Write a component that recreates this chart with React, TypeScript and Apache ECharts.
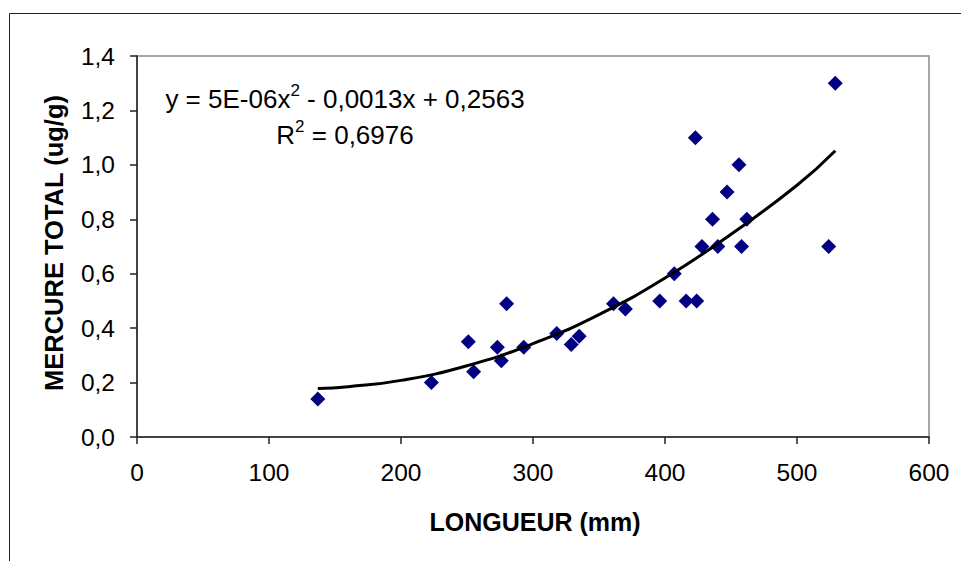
import React, { useEffect, useRef } from "react";
import * as echarts from "echarts";

const longueur: number[] = [137, 223, 251, 255, 273, 276, 280, 293, 318, 329, 335, 361, 370, 396, 407, 416, 424, 423, 428, 436, 440, 447, 456, 458, 462, 524, 529];
const mercure: number[] = [0.14, 0.20, 0.35, 0.24, 0.33, 0.28, 0.49, 0.33, 0.38, 0.34, 0.37, 0.49, 0.47, 0.50, 0.60, 0.50, 0.50, 1.10, 0.70, 0.80, 0.70, 0.90, 1.00, 0.70, 0.80, 0.70, 1.30];
// polynomial trend line
const trendX: number[] = [137, 160, 200, 250, 300, 350, 400, 450, 500, 529];
const trendY: number[] = [0.178, 0.185, 0.208, 0.262, 0.343, 0.45, 0.584, 0.745, 0.925, 1.052];
const xTicks = { min: 0, max: 600, interval: 100 };
const yTicks = { min: 0, max: 1.4, interval: 0.2 };
const xTitle = "LONGUEUR (mm)";
const yTitle = "MERCURE TOTAL (ug/g)";
const eqLine1 = ["y = 5E-06x", "2", " - 0,0013x + 0,2563"];
const eqLine2 = ["R", "2", " = 0,6976"];

const FONT = "'Liberation Sans', Arial, sans-serif";

export default function App() {
  const ref = useRef<HTMLDivElement>(null);
  useEffect(() => {
    if (!ref.current) return;
    const chart = echarts.init(ref.current, undefined, { renderer: "svg" });
    const trend = trendX.map((x, i) => [x, trendY[i]]);
    const pts = longueur.map((x, i) => [x, mercure[i]]);
    const rich = {
      n: { fontSize: 26, fontFamily: FONT, fill: "#000", lineHeight: 30, verticalAlign: "bottom" },
      s: { fontSize: 17, fontFamily: FONT, fill: "#000", lineHeight: 30, verticalAlign: "top", padding: [0, 0, 10, 0] },
    };

    chart.setOption({
      animation: false,
      backgroundColor: "#fff",
      textStyle: { fontFamily: FONT },
      grid: {
        left: 137,
        right: 32,
        top: 56,
        bottom: 124,
        show: true,
        borderColor: "#8a8a8a",
        borderWidth: 1.5,
        containLabel: false,
      },
      xAxis: {
        type: "value",
        min: xTicks.min,
        max: xTicks.max,
        interval: xTicks.interval,
        splitLine: { show: false },
        axisLine: { show: true, onZero: false, lineStyle: { color: "#222", width: 1.5 } },
        axisTick: { show: true, length: 7, lineStyle: { color: "#222", width: 1.5 } },
        axisLabel: { margin: 23, color: "#000", fontSize: 24.5, fontFamily: FONT },
      },
      yAxis: {
        type: "value",
        min: yTicks.min,
        max: yTicks.max,
        interval: yTicks.interval,
        splitLine: { show: false },
        axisLine: { show: true, onZero: false, lineStyle: { color: "#222", width: 1.5 } },
        axisTick: { show: true, length: 7, lineStyle: { color: "#222", width: 1.5 } },
        axisLabel: {
          margin: 22,
          color: "#000",
          fontSize: 24.5,
          fontFamily: FONT,
          formatter: (v: number) => v.toFixed(1).replace(".", ","),
        },
      },
      series: [
        {
          type: "scatter",
          data: pts,
          symbol: "diamond",
          symbolSize: 15,
          itemStyle: { color: "#000080", opacity: 1 },
          z: 3,
        },
        {
          type: "line",
          data: trend,
          showSymbol: false,
          smooth: true,
          lineStyle: { color: "#000", width: 3 },
          z: 4,
        },
      ],
      graphic: [
        {
          type: "rect",
          shape: { x: 9.5, y: 13.5, width: 1000, height: 600 },
          style: { fill: "none", stroke: "#222", lineWidth: 1 },
          silent: true,
          z: -1,
        },
        {
          type: "text",
          x: 535,
          y: 522,
          style: {
            text: xTitle,
            font: `bold 25px ${FONT}`,
            fill: "#000",
            textAlign: "center",
            textVerticalAlign: "middle",
          },
        },
        {
          type: "text",
          x: 54,
          y: 243,
          rotation: Math.PI / 2,
          style: {
            text: yTitle,
            font: `bold 25.5px ${FONT}`,
            fill: "#000",
            textAlign: "center",
            textVerticalAlign: "middle",
          },
        },
        {
          type: "text",
          x: 345,
          y: 97,
          style: {
            text: `{n|${eqLine1[0]}}{s|${eqLine1[1]}}{n|${eqLine1[2]}}`,
            textAlign: "center",
            textVerticalAlign: "middle",
            rich,
          },
        },
        {
          type: "text",
          x: 345,
          y: 133,
          style: {
            text: `{n|${eqLine2[0]}}{s|${eqLine2[1]}}{n|${eqLine2[2]}}`,
            textAlign: "center",
            textVerticalAlign: "middle",
            rich,
          },
        },
      ],
    });
    return () => chart.dispose();
  }, []);
  return <div ref={ref} style={{ width: 961, height: 561, position: "absolute", left: 0, top: 0 }} />;
}
